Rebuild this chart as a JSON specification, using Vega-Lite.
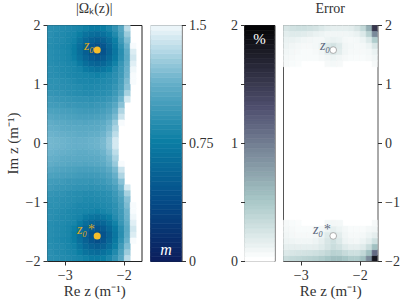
{
"$schema": "https://vega.github.io/schema/vega-lite/v6.json",
"background": "white",
"padding": {"left": 4, "top": 1, "right": 2, "bottom": 2},
"bounds": "flush",
"spacing": 8.5,
"resolve": {"scale": {"color": "independent", "stroke": "independent"}},
"config": {
  "font": "Liberation Serif",
  "axis": {"labelFont": "Liberation Serif", "labelFontSize": 14, "labelColor": "#333", "tickColor": "#333", "tickSize": 4, "domain": false, "grid": false, "titleFont": "Liberation Serif", "titleFontSize": 15, "titleFontWeight": "normal", "titleColor": "#333", "labelPadding": 3},
  "title": {"font": "Liberation Serif", "fontSize": 14, "fontWeight": "normal", "color": "#333", "offset": 2}
},
"datasets": {
"om": [
{"x":-3.3,"y":1.9,"v":0.88},{"x":-3.2,"y":1.9,"v":0.87},{"x":-3.1,"y":1.9,"v":0.85},{"x":-3,"y":1.9,"v":0.84},{"x":-2.9,"y":1.9,"v":0.82},{"x":-2.8,"y":1.9,"v":0.8},{"x":-2.7,"y":1.9,"v":0.77},{"x":-2.6,"y":1.9,"v":0.73},{"x":-2.5,"y":1.9,"v":0.73},{"x":-2.4,"y":1.9,"v":0.75},{"x":-2.3,"y":1.9,"v":0.82},{"x":-2.2,"y":1.9,"v":0.91},{"x":-2.1,"y":1.9,"v":1.05},{"x":-2,"y":1.9,"v":1.34},
{"x":-3.3,"y":1.8,"v":0.88},{"x":-3.2,"y":1.8,"v":0.85},{"x":-3.1,"y":1.8,"v":0.84},{"x":-3,"y":1.8,"v":0.82},{"x":-2.9,"y":1.8,"v":0.8},{"x":-2.8,"y":1.8,"v":0.74},{"x":-2.7,"y":1.8,"v":0.67},{"x":-2.6,"y":1.8,"v":0.63},{"x":-2.5,"y":1.8,"v":0.61},{"x":-2.4,"y":1.8,"v":0.65},{"x":-2.3,"y":1.8,"v":0.72},{"x":-2.2,"y":1.8,"v":0.84},{"x":-2.1,"y":1.8,"v":1.01},{"x":-2,"y":1.8,"v":1.26},
{"x":-3.3,"y":1.7,"v":0.87},{"x":-3.2,"y":1.7,"v":0.85},{"x":-3.1,"y":1.7,"v":0.84},{"x":-3,"y":1.7,"v":0.81},{"x":-2.9,"y":1.7,"v":0.78},{"x":-2.8,"y":1.7,"v":0.68},{"x":-2.7,"y":1.7,"v":0.59},{"x":-2.6,"y":1.7,"v":0.53},{"x":-2.5,"y":1.7,"v":0.5},{"x":-2.4,"y":1.7,"v":0.54},{"x":-2.3,"y":1.7,"v":0.63},{"x":-2.2,"y":1.7,"v":0.76},{"x":-2.1,"y":1.7,"v":0.96},{"x":-2,"y":1.7,"v":1.19},
{"x":-3.3,"y":1.6,"v":0.86},{"x":-3.2,"y":1.6,"v":0.84},{"x":-3.1,"y":1.6,"v":0.82},{"x":-3,"y":1.6,"v":0.8},{"x":-2.9,"y":1.6,"v":0.74},{"x":-2.8,"y":1.6,"v":0.64},{"x":-2.7,"y":1.6,"v":0.54},{"x":-2.6,"y":1.6,"v":0.44},{"x":-2.5,"y":1.6,"v":0.39},{"x":-2.4,"y":1.6,"v":0.45},{"x":-2.3,"y":1.6,"v":0.57},{"x":-2.2,"y":1.6,"v":0.71},{"x":-2.1,"y":1.6,"v":0.9},{"x":-2,"y":1.6,"v":1.13},{"x":-1.9,"y":1.6,"v":1.5},
{"x":-3.3,"y":1.5,"v":0.87},{"x":-3.2,"y":1.5,"v":0.85},{"x":-3.1,"y":1.5,"v":0.83},{"x":-3,"y":1.5,"v":0.81},{"x":-2.9,"y":1.5,"v":0.74},{"x":-2.8,"y":1.5,"v":0.63},{"x":-2.7,"y":1.5,"v":0.52},{"x":-2.6,"y":1.5,"v":0.42},{"x":-2.5,"y":1.5,"v":0.33},{"x":-2.4,"y":1.5,"v":0.43},{"x":-2.3,"y":1.5,"v":0.55},{"x":-2.2,"y":1.5,"v":0.69},{"x":-2.1,"y":1.5,"v":0.87},{"x":-2,"y":1.5,"v":1.09},{"x":-1.9,"y":1.5,"v":1.43},
{"x":-3.3,"y":1.4,"v":0.87},{"x":-3.2,"y":1.4,"v":0.85},{"x":-3.1,"y":1.4,"v":0.83},{"x":-3,"y":1.4,"v":0.81},{"x":-2.9,"y":1.4,"v":0.76},{"x":-2.8,"y":1.4,"v":0.66},{"x":-2.7,"y":1.4,"v":0.56},{"x":-2.6,"y":1.4,"v":0.48},{"x":-2.5,"y":1.4,"v":0.44},{"x":-2.4,"y":1.4,"v":0.49},{"x":-2.3,"y":1.4,"v":0.59},{"x":-2.2,"y":1.4,"v":0.71},{"x":-2.1,"y":1.4,"v":0.88},{"x":-2,"y":1.4,"v":1.07},{"x":-1.9,"y":1.4,"v":1.4},
{"x":-3.3,"y":1.3,"v":0.87},{"x":-3.2,"y":1.3,"v":0.85},{"x":-3.1,"y":1.3,"v":0.84},{"x":-3,"y":1.3,"v":0.82},{"x":-2.9,"y":1.3,"v":0.8},{"x":-2.8,"y":1.3,"v":0.72},{"x":-2.7,"y":1.3,"v":0.63},{"x":-2.6,"y":1.3,"v":0.57},{"x":-2.5,"y":1.3,"v":0.55},{"x":-2.4,"y":1.3,"v":0.58},{"x":-2.3,"y":1.3,"v":0.66},{"x":-2.2,"y":1.3,"v":0.78},{"x":-2.1,"y":1.3,"v":0.93},{"x":-2,"y":1.3,"v":1.1},{"x":-1.9,"y":1.3,"v":1.44},
{"x":-3.3,"y":1.2,"v":0.88},{"x":-3.2,"y":1.2,"v":0.86},{"x":-3.1,"y":1.2,"v":0.84},{"x":-3,"y":1.2,"v":0.83},{"x":-2.9,"y":1.2,"v":0.81},{"x":-2.8,"y":1.2,"v":0.79},{"x":-2.7,"y":1.2,"v":0.72},{"x":-2.6,"y":1.2,"v":0.68},{"x":-2.5,"y":1.2,"v":0.66},{"x":-2.4,"y":1.2,"v":0.69},{"x":-2.3,"y":1.2,"v":0.75},{"x":-2.2,"y":1.2,"v":0.85},{"x":-2.1,"y":1.2,"v":0.95},{"x":-2,"y":1.2,"v":1.13},{"x":-1.9,"y":1.2,"v":1.48},
{"x":-3.3,"y":1.1,"v":0.88},{"x":-3.2,"y":1.1,"v":0.87},{"x":-3.1,"y":1.1,"v":0.85},{"x":-3,"y":1.1,"v":0.83},{"x":-2.9,"y":1.1,"v":0.82},{"x":-2.8,"y":1.1,"v":0.81},{"x":-2.7,"y":1.1,"v":0.8},{"x":-2.6,"y":1.1,"v":0.79},{"x":-2.5,"y":1.1,"v":0.77},{"x":-2.4,"y":1.1,"v":0.8},{"x":-2.3,"y":1.1,"v":0.83},{"x":-2.2,"y":1.1,"v":0.88},{"x":-2.1,"y":1.1,"v":0.96},{"x":-2,"y":1.1,"v":1.14},{"x":-1.9,"y":1.1,"v":1.5},
{"x":-3.3,"y":1.0,"v":0.89},{"x":-3.2,"y":1.0,"v":0.89},{"x":-3.1,"y":1.0,"v":0.87},{"x":-3,"y":1.0,"v":0.86},{"x":-2.9,"y":1.0,"v":0.84},{"x":-2.8,"y":1.0,"v":0.82},{"x":-2.7,"y":1.0,"v":0.82},{"x":-2.6,"y":1.0,"v":0.81},{"x":-2.5,"y":1.0,"v":0.82},{"x":-2.4,"y":1.0,"v":0.83},{"x":-2.3,"y":1.0,"v":0.85},{"x":-2.2,"y":1.0,"v":0.89},{"x":-2.1,"y":1.0,"v":0.99},{"x":-2,"y":1.0,"v":1.18},{"x":-1.9,"y":1.0,"v":1.5},
{"x":-3.3,"y":0.9,"v":0.9},{"x":-3.2,"y":0.9,"v":0.89},{"x":-3.1,"y":0.9,"v":0.88},{"x":-3,"y":0.9,"v":0.87},{"x":-2.9,"y":0.9,"v":0.86},{"x":-2.8,"y":0.9,"v":0.85},{"x":-2.7,"y":0.9,"v":0.83},{"x":-2.6,"y":0.9,"v":0.83},{"x":-2.5,"y":0.9,"v":0.84},{"x":-2.4,"y":0.9,"v":0.85},{"x":-2.3,"y":0.9,"v":0.87},{"x":-2.2,"y":0.9,"v":0.92},{"x":-2.1,"y":0.9,"v":1.01},{"x":-2,"y":0.9,"v":1.21},
{"x":-3.3,"y":0.8,"v":0.92},{"x":-3.2,"y":0.8,"v":0.91},{"x":-3.1,"y":0.8,"v":0.9},{"x":-3,"y":0.8,"v":0.88},{"x":-2.9,"y":0.8,"v":0.87},{"x":-2.8,"y":0.8,"v":0.86},{"x":-2.7,"y":0.8,"v":0.85},{"x":-2.6,"y":0.8,"v":0.85},{"x":-2.5,"y":0.8,"v":0.86},{"x":-2.4,"y":0.8,"v":0.87},{"x":-2.3,"y":0.8,"v":0.89},{"x":-2.2,"y":0.8,"v":0.95},{"x":-2.1,"y":0.8,"v":1.06},{"x":-2,"y":0.8,"v":1.29},
{"x":-3.3,"y":0.7,"v":0.96},{"x":-3.2,"y":0.7,"v":0.94},{"x":-3.1,"y":0.7,"v":0.93},{"x":-3,"y":0.7,"v":0.92},{"x":-2.9,"y":0.7,"v":0.91},{"x":-2.8,"y":0.7,"v":0.9},{"x":-2.7,"y":0.7,"v":0.9},{"x":-2.6,"y":0.7,"v":0.89},{"x":-2.5,"y":0.7,"v":0.9},{"x":-2.4,"y":0.7,"v":0.91},{"x":-2.3,"y":0.7,"v":0.94},{"x":-2.2,"y":0.7,"v":1.0},{"x":-2.1,"y":0.7,"v":1.14},{"x":-2,"y":0.7,"v":1.41},
{"x":-3.3,"y":0.6,"v":0.98},{"x":-3.2,"y":0.6,"v":0.97},{"x":-3.1,"y":0.6,"v":0.96},{"x":-3,"y":0.6,"v":0.94},{"x":-2.9,"y":0.6,"v":0.94},{"x":-2.8,"y":0.6,"v":0.93},{"x":-2.7,"y":0.6,"v":0.93},{"x":-2.6,"y":0.6,"v":0.92},{"x":-2.5,"y":0.6,"v":0.94},{"x":-2.4,"y":0.6,"v":0.95},{"x":-2.3,"y":0.6,"v":0.99},{"x":-2.2,"y":0.6,"v":1.06},{"x":-2.1,"y":0.6,"v":1.21},
{"x":-3.3,"y":0.5,"v":1.02},{"x":-3.2,"y":0.5,"v":1.01},{"x":-3.1,"y":0.5,"v":1.0},{"x":-3,"y":0.5,"v":0.99},{"x":-2.9,"y":0.5,"v":0.98},{"x":-2.8,"y":0.5,"v":0.97},{"x":-2.7,"y":0.5,"v":0.96},{"x":-2.6,"y":0.5,"v":0.96},{"x":-2.5,"y":0.5,"v":0.97},{"x":-2.4,"y":0.5,"v":0.99},{"x":-2.3,"y":0.5,"v":1.03},{"x":-2.2,"y":0.5,"v":1.12},{"x":-2.1,"y":0.5,"v":1.31},
{"x":-3.3,"y":0.4,"v":1.06},{"x":-3.2,"y":0.4,"v":1.04},{"x":-3.1,"y":0.4,"v":1.03},{"x":-3,"y":0.4,"v":1.02},{"x":-2.9,"y":0.4,"v":1.01},{"x":-2.8,"y":0.4,"v":1.0},{"x":-2.7,"y":0.4,"v":1.0},{"x":-2.6,"y":0.4,"v":1.0},{"x":-2.5,"y":0.4,"v":1.01},{"x":-2.4,"y":0.4,"v":1.03},{"x":-2.3,"y":0.4,"v":1.08},{"x":-2.2,"y":0.4,"v":1.17},{"x":-2.1,"y":0.4,"v":1.38},
{"x":-3.3,"y":0.3,"v":1.1},{"x":-3.2,"y":0.3,"v":1.08},{"x":-3.1,"y":0.3,"v":1.07},{"x":-3,"y":0.3,"v":1.06},{"x":-2.9,"y":0.3,"v":1.05},{"x":-2.8,"y":0.3,"v":1.05},{"x":-2.7,"y":0.3,"v":1.04},{"x":-2.6,"y":0.3,"v":1.05},{"x":-2.5,"y":0.3,"v":1.06},{"x":-2.4,"y":0.3,"v":1.08},{"x":-2.3,"y":0.3,"v":1.14},{"x":-2.2,"y":0.3,"v":1.25},{"x":-2.1,"y":0.3,"v":1.5},
{"x":-3.3,"y":0.2,"v":1.12},{"x":-3.2,"y":0.2,"v":1.11},{"x":-3.1,"y":0.2,"v":1.09},{"x":-3,"y":0.2,"v":1.08},{"x":-2.9,"y":0.2,"v":1.08},{"x":-2.8,"y":0.2,"v":1.07},{"x":-2.7,"y":0.2,"v":1.07},{"x":-2.6,"y":0.2,"v":1.07},{"x":-2.5,"y":0.2,"v":1.08},{"x":-2.4,"y":0.2,"v":1.11},{"x":-2.3,"y":0.2,"v":1.17},{"x":-2.2,"y":0.2,"v":1.3},
{"x":-3.3,"y":0.1,"v":1.14},{"x":-3.2,"y":0.1,"v":1.13},{"x":-3.1,"y":0.1,"v":1.12},{"x":-3,"y":0.1,"v":1.11},{"x":-2.9,"y":0.1,"v":1.1},{"x":-2.8,"y":0.1,"v":1.09},{"x":-2.7,"y":0.1,"v":1.09},{"x":-2.6,"y":0.1,"v":1.1},{"x":-2.5,"y":0.1,"v":1.11},{"x":-2.4,"y":0.1,"v":1.14},{"x":-2.3,"y":0.1,"v":1.21},{"x":-2.2,"y":0.1,"v":1.35},
{"x":-3.3,"y":0.0,"v":1.16},{"x":-3.2,"y":0.0,"v":1.15},{"x":-3.1,"y":0.0,"v":1.14},{"x":-3,"y":0.0,"v":1.13},{"x":-2.9,"y":0.0,"v":1.12},{"x":-2.8,"y":0.0,"v":1.12},{"x":-2.7,"y":0.0,"v":1.12},{"x":-2.6,"y":0.0,"v":1.13},{"x":-2.5,"y":0.0,"v":1.14},{"x":-2.4,"y":0.0,"v":1.17},{"x":-2.3,"y":0.0,"v":1.25},{"x":-2.2,"y":0.0,"v":1.41},
{"x":-3.3,"y":-0.1,"v":1.16},{"x":-3.2,"y":-0.1,"v":1.15},{"x":-3.1,"y":-0.1,"v":1.14},{"x":-3,"y":-0.1,"v":1.13},{"x":-2.9,"y":-0.1,"v":1.12},{"x":-2.8,"y":-0.1,"v":1.12},{"x":-2.7,"y":-0.1,"v":1.12},{"x":-2.6,"y":-0.1,"v":1.13},{"x":-2.5,"y":-0.1,"v":1.14},{"x":-2.4,"y":-0.1,"v":1.17},{"x":-2.3,"y":-0.1,"v":1.25},{"x":-2.2,"y":-0.1,"v":1.41},
{"x":-3.3,"y":-0.2,"v":1.14},{"x":-3.2,"y":-0.2,"v":1.13},{"x":-3.1,"y":-0.2,"v":1.12},{"x":-3,"y":-0.2,"v":1.11},{"x":-2.9,"y":-0.2,"v":1.1},{"x":-2.8,"y":-0.2,"v":1.09},{"x":-2.7,"y":-0.2,"v":1.09},{"x":-2.6,"y":-0.2,"v":1.1},{"x":-2.5,"y":-0.2,"v":1.11},{"x":-2.4,"y":-0.2,"v":1.14},{"x":-2.3,"y":-0.2,"v":1.21},{"x":-2.2,"y":-0.2,"v":1.35},
{"x":-3.3,"y":-0.3,"v":1.12},{"x":-3.2,"y":-0.3,"v":1.11},{"x":-3.1,"y":-0.3,"v":1.09},{"x":-3,"y":-0.3,"v":1.08},{"x":-2.9,"y":-0.3,"v":1.08},{"x":-2.8,"y":-0.3,"v":1.07},{"x":-2.7,"y":-0.3,"v":1.07},{"x":-2.6,"y":-0.3,"v":1.07},{"x":-2.5,"y":-0.3,"v":1.08},{"x":-2.4,"y":-0.3,"v":1.11},{"x":-2.3,"y":-0.3,"v":1.17},{"x":-2.2,"y":-0.3,"v":1.3},
{"x":-3.3,"y":-0.4,"v":1.1},{"x":-3.2,"y":-0.4,"v":1.08},{"x":-3.1,"y":-0.4,"v":1.07},{"x":-3,"y":-0.4,"v":1.06},{"x":-2.9,"y":-0.4,"v":1.05},{"x":-2.8,"y":-0.4,"v":1.05},{"x":-2.7,"y":-0.4,"v":1.04},{"x":-2.6,"y":-0.4,"v":1.05},{"x":-2.5,"y":-0.4,"v":1.06},{"x":-2.4,"y":-0.4,"v":1.08},{"x":-2.3,"y":-0.4,"v":1.14},{"x":-2.2,"y":-0.4,"v":1.25},{"x":-2.1,"y":-0.4,"v":1.5},
{"x":-3.3,"y":-0.5,"v":1.06},{"x":-3.2,"y":-0.5,"v":1.04},{"x":-3.1,"y":-0.5,"v":1.03},{"x":-3,"y":-0.5,"v":1.02},{"x":-2.9,"y":-0.5,"v":1.01},{"x":-2.8,"y":-0.5,"v":1.0},{"x":-2.7,"y":-0.5,"v":1.0},{"x":-2.6,"y":-0.5,"v":1.0},{"x":-2.5,"y":-0.5,"v":1.01},{"x":-2.4,"y":-0.5,"v":1.03},{"x":-2.3,"y":-0.5,"v":1.08},{"x":-2.2,"y":-0.5,"v":1.17},{"x":-2.1,"y":-0.5,"v":1.38},
{"x":-3.3,"y":-0.6,"v":1.02},{"x":-3.2,"y":-0.6,"v":1.01},{"x":-3.1,"y":-0.6,"v":1.0},{"x":-3,"y":-0.6,"v":0.99},{"x":-2.9,"y":-0.6,"v":0.98},{"x":-2.8,"y":-0.6,"v":0.97},{"x":-2.7,"y":-0.6,"v":0.96},{"x":-2.6,"y":-0.6,"v":0.96},{"x":-2.5,"y":-0.6,"v":0.97},{"x":-2.4,"y":-0.6,"v":0.99},{"x":-2.3,"y":-0.6,"v":1.03},{"x":-2.2,"y":-0.6,"v":1.12},{"x":-2.1,"y":-0.6,"v":1.31},
{"x":-3.3,"y":-0.7,"v":0.98},{"x":-3.2,"y":-0.7,"v":0.97},{"x":-3.1,"y":-0.7,"v":0.96},{"x":-3,"y":-0.7,"v":0.94},{"x":-2.9,"y":-0.7,"v":0.94},{"x":-2.8,"y":-0.7,"v":0.93},{"x":-2.7,"y":-0.7,"v":0.93},{"x":-2.6,"y":-0.7,"v":0.92},{"x":-2.5,"y":-0.7,"v":0.94},{"x":-2.4,"y":-0.7,"v":0.95},{"x":-2.3,"y":-0.7,"v":0.99},{"x":-2.2,"y":-0.7,"v":1.06},{"x":-2.1,"y":-0.7,"v":1.21},
{"x":-3.3,"y":-0.8,"v":0.96},{"x":-3.2,"y":-0.8,"v":0.94},{"x":-3.1,"y":-0.8,"v":0.93},{"x":-3,"y":-0.8,"v":0.92},{"x":-2.9,"y":-0.8,"v":0.91},{"x":-2.8,"y":-0.8,"v":0.9},{"x":-2.7,"y":-0.8,"v":0.9},{"x":-2.6,"y":-0.8,"v":0.89},{"x":-2.5,"y":-0.8,"v":0.9},{"x":-2.4,"y":-0.8,"v":0.91},{"x":-2.3,"y":-0.8,"v":0.94},{"x":-2.2,"y":-0.8,"v":1.0},{"x":-2.1,"y":-0.8,"v":1.14},{"x":-2,"y":-0.8,"v":1.41},
{"x":-3.3,"y":-0.9,"v":0.92},{"x":-3.2,"y":-0.9,"v":0.91},{"x":-3.1,"y":-0.9,"v":0.9},{"x":-3,"y":-0.9,"v":0.88},{"x":-2.9,"y":-0.9,"v":0.87},{"x":-2.8,"y":-0.9,"v":0.86},{"x":-2.7,"y":-0.9,"v":0.85},{"x":-2.6,"y":-0.9,"v":0.85},{"x":-2.5,"y":-0.9,"v":0.86},{"x":-2.4,"y":-0.9,"v":0.87},{"x":-2.3,"y":-0.9,"v":0.89},{"x":-2.2,"y":-0.9,"v":0.95},{"x":-2.1,"y":-0.9,"v":1.06},{"x":-2,"y":-0.9,"v":1.29},
{"x":-3.3,"y":-1.0,"v":0.9},{"x":-3.2,"y":-1.0,"v":0.89},{"x":-3.1,"y":-1.0,"v":0.88},{"x":-3,"y":-1.0,"v":0.87},{"x":-2.9,"y":-1.0,"v":0.86},{"x":-2.8,"y":-1.0,"v":0.85},{"x":-2.7,"y":-1.0,"v":0.83},{"x":-2.6,"y":-1.0,"v":0.83},{"x":-2.5,"y":-1.0,"v":0.84},{"x":-2.4,"y":-1.0,"v":0.85},{"x":-2.3,"y":-1.0,"v":0.87},{"x":-2.2,"y":-1.0,"v":0.92},{"x":-2.1,"y":-1.0,"v":1.01},{"x":-2,"y":-1.0,"v":1.21},
{"x":-3.3,"y":-1.1,"v":0.89},{"x":-3.2,"y":-1.1,"v":0.89},{"x":-3.1,"y":-1.1,"v":0.87},{"x":-3,"y":-1.1,"v":0.86},{"x":-2.9,"y":-1.1,"v":0.84},{"x":-2.8,"y":-1.1,"v":0.82},{"x":-2.7,"y":-1.1,"v":0.82},{"x":-2.6,"y":-1.1,"v":0.81},{"x":-2.5,"y":-1.1,"v":0.82},{"x":-2.4,"y":-1.1,"v":0.83},{"x":-2.3,"y":-1.1,"v":0.85},{"x":-2.2,"y":-1.1,"v":0.89},{"x":-2.1,"y":-1.1,"v":0.99},{"x":-2,"y":-1.1,"v":1.18},{"x":-1.9,"y":-1.1,"v":1.5},
{"x":-3.3,"y":-1.2,"v":0.88},{"x":-3.2,"y":-1.2,"v":0.87},{"x":-3.1,"y":-1.2,"v":0.85},{"x":-3,"y":-1.2,"v":0.83},{"x":-2.9,"y":-1.2,"v":0.82},{"x":-2.8,"y":-1.2,"v":0.81},{"x":-2.7,"y":-1.2,"v":0.8},{"x":-2.6,"y":-1.2,"v":0.79},{"x":-2.5,"y":-1.2,"v":0.77},{"x":-2.4,"y":-1.2,"v":0.8},{"x":-2.3,"y":-1.2,"v":0.83},{"x":-2.2,"y":-1.2,"v":0.88},{"x":-2.1,"y":-1.2,"v":0.96},{"x":-2,"y":-1.2,"v":1.14},{"x":-1.9,"y":-1.2,"v":1.5},
{"x":-3.3,"y":-1.3,"v":0.88},{"x":-3.2,"y":-1.3,"v":0.86},{"x":-3.1,"y":-1.3,"v":0.84},{"x":-3,"y":-1.3,"v":0.83},{"x":-2.9,"y":-1.3,"v":0.81},{"x":-2.8,"y":-1.3,"v":0.79},{"x":-2.7,"y":-1.3,"v":0.72},{"x":-2.6,"y":-1.3,"v":0.68},{"x":-2.5,"y":-1.3,"v":0.66},{"x":-2.4,"y":-1.3,"v":0.69},{"x":-2.3,"y":-1.3,"v":0.75},{"x":-2.2,"y":-1.3,"v":0.85},{"x":-2.1,"y":-1.3,"v":0.95},{"x":-2,"y":-1.3,"v":1.13},{"x":-1.9,"y":-1.3,"v":1.48},
{"x":-3.3,"y":-1.4,"v":0.87},{"x":-3.2,"y":-1.4,"v":0.85},{"x":-3.1,"y":-1.4,"v":0.84},{"x":-3,"y":-1.4,"v":0.82},{"x":-2.9,"y":-1.4,"v":0.8},{"x":-2.8,"y":-1.4,"v":0.72},{"x":-2.7,"y":-1.4,"v":0.63},{"x":-2.6,"y":-1.4,"v":0.57},{"x":-2.5,"y":-1.4,"v":0.55},{"x":-2.4,"y":-1.4,"v":0.58},{"x":-2.3,"y":-1.4,"v":0.66},{"x":-2.2,"y":-1.4,"v":0.78},{"x":-2.1,"y":-1.4,"v":0.93},{"x":-2,"y":-1.4,"v":1.1},{"x":-1.9,"y":-1.4,"v":1.44},
{"x":-3.3,"y":-1.5,"v":0.87},{"x":-3.2,"y":-1.5,"v":0.85},{"x":-3.1,"y":-1.5,"v":0.83},{"x":-3,"y":-1.5,"v":0.81},{"x":-2.9,"y":-1.5,"v":0.76},{"x":-2.8,"y":-1.5,"v":0.66},{"x":-2.7,"y":-1.5,"v":0.56},{"x":-2.6,"y":-1.5,"v":0.48},{"x":-2.5,"y":-1.5,"v":0.44},{"x":-2.4,"y":-1.5,"v":0.49},{"x":-2.3,"y":-1.5,"v":0.59},{"x":-2.2,"y":-1.5,"v":0.71},{"x":-2.1,"y":-1.5,"v":0.88},{"x":-2,"y":-1.5,"v":1.07},{"x":-1.9,"y":-1.5,"v":1.4},
{"x":-3.3,"y":-1.6,"v":0.87},{"x":-3.2,"y":-1.6,"v":0.85},{"x":-3.1,"y":-1.6,"v":0.83},{"x":-3,"y":-1.6,"v":0.81},{"x":-2.9,"y":-1.6,"v":0.74},{"x":-2.8,"y":-1.6,"v":0.63},{"x":-2.7,"y":-1.6,"v":0.52},{"x":-2.6,"y":-1.6,"v":0.42},{"x":-2.5,"y":-1.6,"v":0.33},{"x":-2.4,"y":-1.6,"v":0.43},{"x":-2.3,"y":-1.6,"v":0.55},{"x":-2.2,"y":-1.6,"v":0.69},{"x":-2.1,"y":-1.6,"v":0.87},{"x":-2,"y":-1.6,"v":1.09},{"x":-1.9,"y":-1.6,"v":1.43},
{"x":-3.3,"y":-1.7,"v":0.86},{"x":-3.2,"y":-1.7,"v":0.84},{"x":-3.1,"y":-1.7,"v":0.82},{"x":-3,"y":-1.7,"v":0.8},{"x":-2.9,"y":-1.7,"v":0.74},{"x":-2.8,"y":-1.7,"v":0.64},{"x":-2.7,"y":-1.7,"v":0.54},{"x":-2.6,"y":-1.7,"v":0.44},{"x":-2.5,"y":-1.7,"v":0.39},{"x":-2.4,"y":-1.7,"v":0.45},{"x":-2.3,"y":-1.7,"v":0.57},{"x":-2.2,"y":-1.7,"v":0.71},{"x":-2.1,"y":-1.7,"v":0.9},{"x":-2,"y":-1.7,"v":1.13},{"x":-1.9,"y":-1.7,"v":1.5},
{"x":-3.3,"y":-1.8,"v":0.87},{"x":-3.2,"y":-1.8,"v":0.85},{"x":-3.1,"y":-1.8,"v":0.84},{"x":-3,"y":-1.8,"v":0.81},{"x":-2.9,"y":-1.8,"v":0.78},{"x":-2.8,"y":-1.8,"v":0.68},{"x":-2.7,"y":-1.8,"v":0.59},{"x":-2.6,"y":-1.8,"v":0.53},{"x":-2.5,"y":-1.8,"v":0.5},{"x":-2.4,"y":-1.8,"v":0.54},{"x":-2.3,"y":-1.8,"v":0.63},{"x":-2.2,"y":-1.8,"v":0.76},{"x":-2.1,"y":-1.8,"v":0.96},{"x":-2,"y":-1.8,"v":1.19},
{"x":-3.3,"y":-1.9,"v":0.88},{"x":-3.2,"y":-1.9,"v":0.85},{"x":-3.1,"y":-1.9,"v":0.84},{"x":-3,"y":-1.9,"v":0.82},{"x":-2.9,"y":-1.9,"v":0.8},{"x":-2.8,"y":-1.9,"v":0.74},{"x":-2.7,"y":-1.9,"v":0.67},{"x":-2.6,"y":-1.9,"v":0.63},{"x":-2.5,"y":-1.9,"v":0.61},{"x":-2.4,"y":-1.9,"v":0.65},{"x":-2.3,"y":-1.9,"v":0.72},{"x":-2.2,"y":-1.9,"v":0.84},{"x":-2.1,"y":-1.9,"v":1.01},{"x":-2,"y":-1.9,"v":1.26},
{"x":-3.3,"y":-2.0,"v":0.88},{"x":-3.2,"y":-2.0,"v":0.87},{"x":-3.1,"y":-2.0,"v":0.85},{"x":-3,"y":-2.0,"v":0.84},{"x":-2.9,"y":-2.0,"v":0.82},{"x":-2.8,"y":-2.0,"v":0.8},{"x":-2.7,"y":-2.0,"v":0.77},{"x":-2.6,"y":-2.0,"v":0.73},{"x":-2.5,"y":-2.0,"v":0.73},{"x":-2.4,"y":-2.0,"v":0.75},{"x":-2.3,"y":-2.0,"v":0.82},{"x":-2.2,"y":-2.0,"v":0.91},{"x":-2.1,"y":-2.0,"v":1.05},{"x":-2,"y":-2.0,"v":1.34}
],
"er": [
{"x":-3.3,"y":1.9,"v":0.22},{"x":-3.2,"y":1.9,"v":0.26},{"x":-3.1,"y":1.9,"v":0.28},{"x":-3,"y":1.9,"v":0.28},{"x":-2.9,"y":1.9,"v":0.26},{"x":-2.8,"y":1.9,"v":0.24},{"x":-2.7,"y":1.9,"v":0.2},{"x":-2.6,"y":1.9,"v":0.16},{"x":-2.5,"y":1.9,"v":0.14},{"x":-2.4,"y":1.9,"v":0.14},{"x":-2.3,"y":1.9,"v":0.14},{"x":-2.2,"y":1.9,"v":0.16},{"x":-2.1,"y":1.9,"v":0.22},{"x":-2,"y":1.9,"v":0.35},{"x":-1.9,"y":1.9,"v":0.65},{"x":-1.8,"y":1.9,"v":1.5},
{"x":-3.3,"y":1.8,"v":0.16},{"x":-3.2,"y":1.8,"v":0.18},{"x":-3.1,"y":1.8,"v":0.18},{"x":-3,"y":1.8,"v":0.17},{"x":-2.9,"y":1.8,"v":0.15},{"x":-2.8,"y":1.8,"v":0.12},{"x":-2.7,"y":1.8,"v":0.1},{"x":-2.6,"y":1.8,"v":0.08},{"x":-2.5,"y":1.8,"v":0.08},{"x":-2.4,"y":1.8,"v":0.08},{"x":-2.3,"y":1.8,"v":0.08},{"x":-2.2,"y":1.8,"v":0.09},{"x":-2.1,"y":1.8,"v":0.12},{"x":-2,"y":1.8,"v":0.2},{"x":-1.9,"y":1.8,"v":0.4},{"x":-1.8,"y":1.8,"v":0.9},
{"x":-3.3,"y":1.7,"v":0.12},{"x":-3.2,"y":1.7,"v":0.12},{"x":-3.1,"y":1.7,"v":0.1},{"x":-3,"y":1.7,"v":0.08},{"x":-2.9,"y":1.7,"v":0.07},{"x":-2.8,"y":1.7,"v":0.06},{"x":-2.7,"y":1.7,"v":0.06},{"x":-2.6,"y":1.7,"v":0.1},{"x":-2.5,"y":1.7,"v":0.12},{"x":-2.4,"y":1.7,"v":0.1},{"x":-2.3,"y":1.7,"v":0.06},{"x":-2.2,"y":1.7,"v":0.05},{"x":-2.1,"y":1.7,"v":0.06},{"x":-2,"y":1.7,"v":0.1},{"x":-1.9,"y":1.7,"v":0.2},{"x":-1.8,"y":1.7,"v":0.45},
{"x":-3.3,"y":1.6,"v":0.1},{"x":-3.2,"y":1.6,"v":0.08},{"x":-3.1,"y":1.6,"v":0.06},{"x":-3,"y":1.6,"v":0.05},{"x":-2.9,"y":1.6,"v":0.05},{"x":-2.8,"y":1.6,"v":0.06},{"x":-2.7,"y":1.6,"v":0.1},{"x":-2.6,"y":1.6,"v":0.2},{"x":-2.5,"y":1.6,"v":0.25},{"x":-2.4,"y":1.6,"v":0.18},{"x":-2.3,"y":1.6,"v":0.08},{"x":-2.2,"y":1.6,"v":0.06},{"x":-2.1,"y":1.6,"v":0.05},{"x":-2,"y":1.6,"v":0.06},{"x":-1.9,"y":1.6,"v":0.1},{"x":-1.8,"y":1.6,"v":0.22},
{"x":-3.3,"y":1.5,"v":0.08},{"x":-3.2,"y":1.5,"v":0.06},{"x":-3.1,"y":1.5,"v":0.05},{"x":-3,"y":1.5,"v":0.04},{"x":-2.9,"y":1.5,"v":0.04},{"x":-2.8,"y":1.5,"v":0.05},{"x":-2.7,"y":1.5,"v":0.08},{"x":-2.6,"y":1.5,"v":0.16},{"x":-2.5,"y":1.5,"v":0.22},{"x":-2.4,"y":1.5,"v":0.16},{"x":-2.3,"y":1.5,"v":0.08},{"x":-2.2,"y":1.5,"v":0.05},{"x":-2.1,"y":1.5,"v":0.05},{"x":-2,"y":1.5,"v":0.05},{"x":-1.9,"y":1.5,"v":0.06},{"x":-1.8,"y":1.5,"v":0.12},
{"x":-3.3,"y":1.4,"v":0.06},{"x":-3.2,"y":1.4,"v":0.05},{"x":-3.1,"y":1.4,"v":0.04},{"x":-3,"y":1.4,"v":0.04},{"x":-2.9,"y":1.4,"v":0.04},{"x":-2.8,"y":1.4,"v":0.04},{"x":-2.7,"y":1.4,"v":0.05},{"x":-2.6,"y":1.4,"v":0.08},{"x":-2.5,"y":1.4,"v":0.1},{"x":-2.4,"y":1.4,"v":0.08},{"x":-2.3,"y":1.4,"v":0.05},{"x":-2.2,"y":1.4,"v":0.04},{"x":-2.1,"y":1.4,"v":0.04},{"x":-2,"y":1.4,"v":0.04},{"x":-1.9,"y":1.4,"v":0.05},{"x":-1.8,"y":1.4,"v":0.08},
{"x":-3.3,"y":1.3,"v":0.05},{"x":-3.2,"y":1.3,"v":0.04},{"x":-3.1,"y":1.3,"v":0.03},{"x":-2.6,"y":1.3,"v":0.05},{"x":-2.5,"y":1.3,"v":0.06},{"x":-2.4,"y":1.3,"v":0.05},{"x":-1.8,"y":1.3,"v":0.05},
{"x":-3.3,"y":-2.0,"v":0.3},{"x":-3.2,"y":-2.0,"v":0.34},{"x":-3.1,"y":-2.0,"v":0.36},{"x":-3,"y":-2.0,"v":0.38},{"x":-2.9,"y":-2.0,"v":0.4},{"x":-2.8,"y":-2.0,"v":0.42},{"x":-2.7,"y":-2.0,"v":0.45},{"x":-2.6,"y":-2.0,"v":0.5},{"x":-2.5,"y":-2.0,"v":0.55},{"x":-2.4,"y":-2.0,"v":0.55},{"x":-2.3,"y":-2.0,"v":0.5},{"x":-2.2,"y":-2.0,"v":0.45},{"x":-2.1,"y":-2.0,"v":0.45},{"x":-2,"y":-2.0,"v":0.55},{"x":-1.9,"y":-2.0,"v":0.9},{"x":-1.8,"y":-2.0,"v":1.8},
{"x":-3.3,"y":-1.9,"v":0.2},{"x":-3.2,"y":-1.9,"v":0.22},{"x":-3.1,"y":-1.9,"v":0.24},{"x":-3,"y":-1.9,"v":0.25},{"x":-2.9,"y":-1.9,"v":0.26},{"x":-2.8,"y":-1.9,"v":0.28},{"x":-2.7,"y":-1.9,"v":0.3},{"x":-2.6,"y":-1.9,"v":0.35},{"x":-2.5,"y":-1.9,"v":0.4},{"x":-2.4,"y":-1.9,"v":0.38},{"x":-2.3,"y":-1.9,"v":0.32},{"x":-2.2,"y":-1.9,"v":0.28},{"x":-2.1,"y":-1.9,"v":0.28},{"x":-2,"y":-1.9,"v":0.35},{"x":-1.9,"y":-1.9,"v":0.55},{"x":-1.8,"y":-1.9,"v":1.1},
{"x":-3.3,"y":-1.8,"v":0.14},{"x":-3.2,"y":-1.8,"v":0.14},{"x":-3.1,"y":-1.8,"v":0.14},{"x":-3,"y":-1.8,"v":0.14},{"x":-2.9,"y":-1.8,"v":0.14},{"x":-2.8,"y":-1.8,"v":0.15},{"x":-2.7,"y":-1.8,"v":0.18},{"x":-2.6,"y":-1.8,"v":0.24},{"x":-2.5,"y":-1.8,"v":0.3},{"x":-2.4,"y":-1.8,"v":0.26},{"x":-2.3,"y":-1.8,"v":0.18},{"x":-2.2,"y":-1.8,"v":0.14},{"x":-2.1,"y":-1.8,"v":0.14},{"x":-2,"y":-1.8,"v":0.18},{"x":-1.9,"y":-1.8,"v":0.3},{"x":-1.8,"y":-1.8,"v":0.55},
{"x":-3.3,"y":-1.7,"v":0.1},{"x":-3.2,"y":-1.7,"v":0.09},{"x":-3.1,"y":-1.7,"v":0.08},{"x":-3,"y":-1.7,"v":0.08},{"x":-2.9,"y":-1.7,"v":0.08},{"x":-2.8,"y":-1.7,"v":0.1},{"x":-2.7,"y":-1.7,"v":0.14},{"x":-2.6,"y":-1.7,"v":0.22},{"x":-2.5,"y":-1.7,"v":0.28},{"x":-2.4,"y":-1.7,"v":0.2},{"x":-2.3,"y":-1.7,"v":0.1},{"x":-2.2,"y":-1.7,"v":0.08},{"x":-2.1,"y":-1.7,"v":0.07},{"x":-2,"y":-1.7,"v":0.1},{"x":-1.9,"y":-1.7,"v":0.16},{"x":-1.8,"y":-1.7,"v":0.28},
{"x":-3.3,"y":-1.6,"v":0.08},{"x":-3.2,"y":-1.6,"v":0.06},{"x":-3.1,"y":-1.6,"v":0.05},{"x":-3,"y":-1.6,"v":0.05},{"x":-2.9,"y":-1.6,"v":0.05},{"x":-2.8,"y":-1.6,"v":0.07},{"x":-2.7,"y":-1.6,"v":0.1},{"x":-2.6,"y":-1.6,"v":0.18},{"x":-2.5,"y":-1.6,"v":0.25},{"x":-2.4,"y":-1.6,"v":0.16},{"x":-2.3,"y":-1.6,"v":0.08},{"x":-2.2,"y":-1.6,"v":0.05},{"x":-2.1,"y":-1.6,"v":0.05},{"x":-2,"y":-1.6,"v":0.06},{"x":-1.9,"y":-1.6,"v":0.1},{"x":-1.8,"y":-1.6,"v":0.15},
{"x":-3.3,"y":-1.5,"v":0.06},{"x":-3.2,"y":-1.5,"v":0.05},{"x":-3.1,"y":-1.5,"v":0.04},{"x":-3,"y":-1.5,"v":0.04},{"x":-2.9,"y":-1.5,"v":0.04},{"x":-2.8,"y":-1.5,"v":0.05},{"x":-2.7,"y":-1.5,"v":0.07},{"x":-2.6,"y":-1.5,"v":0.1},{"x":-2.5,"y":-1.5,"v":0.14},{"x":-2.4,"y":-1.5,"v":0.1},{"x":-2.3,"y":-1.5,"v":0.06},{"x":-2.2,"y":-1.5,"v":0.04},{"x":-2.1,"y":-1.5,"v":0.04},{"x":-2,"y":-1.5,"v":0.04},{"x":-1.9,"y":-1.5,"v":0.06},{"x":-1.8,"y":-1.5,"v":0.08},
{"x":-3.3,"y":-1.4,"v":0.05},{"x":-3.2,"y":-1.4,"v":0.04},{"x":-3.1,"y":-1.4,"v":0.03},{"x":-2.6,"y":-1.4,"v":0.06},{"x":-2.5,"y":-1.4,"v":0.07},{"x":-2.4,"y":-1.4,"v":0.06},{"x":-1.8,"y":-1.4,"v":0.05}
],
"cb1": [{"c":0},{"c":0.03},{"c":0.06},{"c":0.09},{"c":0.12},{"c":0.15},{"c":0.18},{"c":0.21},{"c":0.24},{"c":0.27},{"c":0.3},{"c":0.33},{"c":0.36},{"c":0.39},{"c":0.42},{"c":0.45},{"c":0.48},{"c":0.51},{"c":0.54},{"c":0.57},{"c":0.6},{"c":0.63},{"c":0.66},{"c":0.69},{"c":0.72},{"c":0.75},{"c":0.78},{"c":0.81},{"c":0.84},{"c":0.87},{"c":0.9},{"c":0.93},{"c":0.96},{"c":0.99},{"c":1.02},{"c":1.05},{"c":1.08},{"c":1.11},{"c":1.14},{"c":1.17},{"c":1.2},{"c":1.23},{"c":1.26},{"c":1.29},{"c":1.32},{"c":1.35},{"c":1.38},{"c":1.41},{"c":1.44},{"c":1.47}],
"cb2": [{"c":0},{"c":0.04},{"c":0.08},{"c":0.12},{"c":0.16},{"c":0.2},{"c":0.24},{"c":0.28},{"c":0.32},{"c":0.36},{"c":0.4},{"c":0.44},{"c":0.48},{"c":0.52},{"c":0.56},{"c":0.6},{"c":0.64},{"c":0.68},{"c":0.72},{"c":0.76},{"c":0.8},{"c":0.84},{"c":0.88},{"c":0.92},{"c":0.96},{"c":1},{"c":1.04},{"c":1.08},{"c":1.12},{"c":1.16},{"c":1.2},{"c":1.24},{"c":1.28},{"c":1.32},{"c":1.36},{"c":1.4},{"c":1.44},{"c":1.48},{"c":1.52},{"c":1.56},{"c":1.6},{"c":1.64},{"c":1.68},{"c":1.72},{"c":1.76},{"c":1.8},{"c":1.84},{"c":1.88},{"c":1.92},{"c":1.96}],
"pts": [{"x":-2.45,"y":1.575},{"x":-2.45,"y":-1.575}],
"lab": [{"x":-2.5,"y":1.64,"t":"z₀"},{"x":-2.5,"y":-1.47,"t":"z₀*"}],
"mt": [{"c":0.07,"t":"m"}],
"pt": [{"c":1.88,"t":"%"}]
},
"hconcat": [
{
  "width": 94.5, "height": 236,
  "title": "|Ωₖ(z)|",
  "view": {"stroke": "#222", "strokeWidth": 1},
  "layer": [
    {"data": {"name": "om"}, "mark": {"type": "rect", "binSpacing": 0, "strokeWidth": 0.6, "clip": true},
     "encoding": {
       "x": {"field": "x", "type": "quantitative", "bin": {"binned": true, "step": 0.1}, "scale": {"domain": [-3.3, -1.7], "nice": false, "zero": false}, "axis": {"values": [-3, -2], "format": "d", "title": "Re z (m⁻¹)", "titlePadding": 1}},
       "y": {"field": "y", "type": "quantitative", "bin": {"binned": true, "step": 0.1}, "scale": {"domain": [-2, 2], "nice": false, "zero": false}, "axis": {"values": [-2, -1, 0, 1, 2], "format": "d", "title": "Im z (m⁻¹)", "titlePadding": 5}},
       "color": {"field": "v", "type": "quantitative", "scale": {"domain": [0, 0.375, 0.75, 1.125, 1.5], "range": ["#0b1f5e", "#054c88", "#0b7ea4", "#67b0ca", "#f7fbfd"], "interpolate": "rgb"}, "legend": null},
       "stroke": {"field": "v", "type": "quantitative", "scale": {"domain": [0, 0.375, 0.75, 1.125, 1.5], "range": ["#0b1f5e", "#054c88", "#0b7ea4", "#67b0ca", "#f7fbfd"], "interpolate": "rgb"}, "legend": null}
     }},
    {"data": {"name": "pts"}, "mark": {"type": "point", "filled": true, "color": "#f6bd2b", "size": 50, "opacity": 1},
     "encoding": {"x": {"field": "x", "type": "quantitative"}, "y": {"field": "y", "type": "quantitative"}}},
    {"data": {"name": "lab"}, "mark": {"type": "text", "align": "right", "baseline": "middle", "color": "#d9a823", "font": "Liberation Serif", "fontSize": 14, "fontStyle": "italic"},
     "encoding": {"x": {"field": "x", "type": "quantitative"}, "y": {"field": "y", "type": "quantitative"}, "text": {"field": "t"}}}
  ]
},
{
  "width": 31, "height": 236,
  "view": {"stroke": "#222", "strokeWidth": 1},
  "layer": [
    {"data": {"name": "cb1"}, "mark": {"type": "rect", "binSpacing": 0, "strokeWidth": 0.6},
     "encoding": {
       "y": {"field": "c", "type": "quantitative", "bin": {"binned": true, "step": 0.03}, "scale": {"domain": [0, 1.5], "nice": false, "zero": false}, "axis": {"orient": "right", "title": null, "values": [0, 0.375, 0.75, 1.125, 1.5], "labelExpr": "datum.value == 0 ? '0' : datum.value == 0.75 ? '0.75' : datum.value == 1.5 ? '1.5' : ''"}},
       "color": {"field": "c", "type": "quantitative", "scale": {"domain": [0, 0.375, 0.75, 1.125, 1.5], "range": ["#0b1f5e", "#054c88", "#0b7ea4", "#67b0ca", "#f7fbfd"], "interpolate": "rgb"}, "legend": null},
       "stroke": {"field": "c", "type": "quantitative", "scale": {"domain": [0, 0.375, 0.75, 1.125, 1.5], "range": ["#0b1f5e", "#054c88", "#0b7ea4", "#67b0ca", "#f7fbfd"], "interpolate": "rgb"}, "legend": null}
     }},
    {"data": {"name": "mt"}, "mark": {"type": "text", "color": "white", "font": "Liberation Serif", "fontSize": 16, "fontStyle": "italic", "baseline": "middle", "align": "center"},
     "encoding": {"y": {"field": "c", "type": "quantitative"}, "text": {"field": "t"}}}
  ]
},
{
  "width": 46, "height": 236,
  "view": {"stroke": null},
  "data": {"values": [{}]},
  "mark": {"type": "rect", "opacity": 0},
  "encoding": {}
},
{
  "width": 30, "height": 236,
  "view": {"stroke": "#333", "strokeWidth": 1},
  "layer": [
    {"data": {"name": "cb2"}, "mark": {"type": "rect", "binSpacing": 0, "strokeWidth": 0.6},
     "encoding": {
       "y": {"field": "c", "type": "quantitative", "bin": {"binned": true, "step": 0.04}, "scale": {"domain": [0, 2], "nice": false, "zero": false}, "axis": {"orient": "left", "title": null, "values": [0, 0.5, 1, 1.5, 2], "labelExpr": "datum.value == 0 ? '0' : datum.value == 1 ? '1' : datum.value == 2 ? '2' : ''"}},
       "color": {"field": "c", "type": "quantitative", "scale": {"domain": [0, 0.508, 1.27, 2], "range": ["#ffffff", "#a6c6c6", "#515171", "#000000"], "interpolate": "rgb"}, "legend": null},
       "stroke": {"field": "c", "type": "quantitative", "scale": {"domain": [0, 0.508, 1.27, 2], "range": ["#ffffff", "#a6c6c6", "#515171", "#000000"], "interpolate": "rgb"}, "legend": null}
     }},
    {"data": {"name": "pt"}, "mark": {"type": "text", "color": "white", "font": "Liberation Serif", "fontSize": 15, "baseline": "middle", "align": "center"},
     "encoding": {"y": {"field": "c", "type": "quantitative"}, "text": {"field": "t"}}}
  ]
},
{
  "width": 94.5, "height": 236,
  "title": "Error",
  "view": {"stroke": "#555", "strokeWidth": 1},
  "layer": [
    {"data": {"name": "er"}, "mark": {"type": "rect", "binSpacing": 0, "strokeWidth": 0.6, "clip": true},
     "encoding": {
       "x": {"field": "x", "type": "quantitative", "bin": {"binned": true, "step": 0.1}, "scale": {"domain": [-3.3, -1.7], "nice": false, "zero": false}, "axis": {"values": [-3, -2], "format": "d", "title": "Re z (m⁻¹)", "titlePadding": 1}},
       "y": {"field": "y", "type": "quantitative", "bin": {"binned": true, "step": 0.1}, "scale": {"domain": [-2, 2], "nice": false, "zero": false}, "axis": {"orient": "right", "values": [-2, -1, 0, 1, 2], "format": "d", "title": null}},
       "color": {"field": "v", "type": "quantitative", "scale": {"domain": [0, 0.508, 1.27, 2], "range": ["#ffffff", "#a6c6c6", "#515171", "#000000"], "interpolate": "rgb"}, "legend": null},
       "stroke": {"field": "v", "type": "quantitative", "scale": {"domain": [0, 0.508, 1.27, 2], "range": ["#ffffff", "#a6c6c6", "#515171", "#000000"], "interpolate": "rgb"}, "legend": null}
     }},
    {"data": {"name": "pts"}, "mark": {"type": "point", "filled": true, "color": "white", "stroke": "#9a9a9a", "strokeWidth": 0.8, "size": 45, "opacity": 1},
     "encoding": {"x": {"field": "x", "type": "quantitative"}, "y": {"field": "y", "type": "quantitative"}}},
    {"data": {"name": "lab"}, "mark": {"type": "text", "align": "right", "baseline": "middle", "color": "#5f6b80", "font": "Liberation Serif", "fontSize": 14, "fontStyle": "italic"},
     "encoding": {"x": {"field": "x", "type": "quantitative"}, "y": {"field": "y", "type": "quantitative"}, "text": {"field": "t"}}}
  ]
}
]
}
